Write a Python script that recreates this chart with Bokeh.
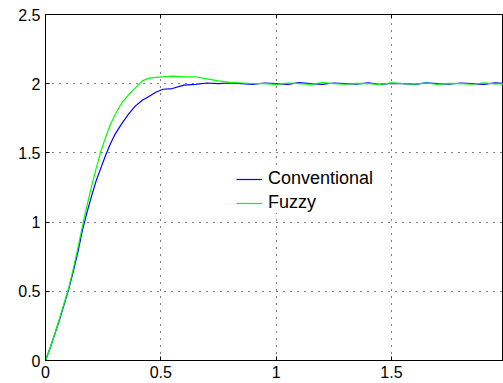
from bokeh.plotting import figure
from bokeh.models import Range1d, FixedTicker, Legend, LegendItem, LinearAxis
from bokeh.embed import file_html
from bokeh.resources import INLINE

# ---- data ----
time_s = [0, 0.02, 0.04, 0.06, 0.08, 0.10, 0.12, 0.14, 0.16, 0.18, 0.20, 0.22,
          0.24, 0.26, 0.28, 0.30, 0.33, 0.36, 0.39, 0.42, 0.45, 0.48, 0.51, 0.55,
          0.60, 0.65, 0.70, 0.75, 0.80,
          0.85, 0.90, 0.95, 1.00, 1.05, 1.10, 1.15, 1.20, 1.25, 1.30, 1.35, 1.40,
          1.45, 1.50, 1.55, 1.60, 1.65, 1.70, 1.75, 1.80, 1.85, 1.90, 1.95, 2.00]

conventional = [0, 0.09, 0.19, 0.29, 0.40, 0.51, 0.64, 0.78, 0.94, 1.07, 1.19, 1.30,
                1.39, 1.48, 1.56, 1.63, 1.71, 1.78, 1.84, 1.88, 1.91, 1.94, 1.96, 1.965,
                1.99, 1.995, 2.005, 2.0, 2.005,
                2.0, 1.995, 2.005, 2.0, 1.995, 2.008, 2.0, 1.995, 2.005, 2.0, 1.997, 2.006,
                1.995, 2.003, 2.0, 1.995, 2.006, 2.0, 1.996, 2.005, 2.0, 1.995, 2.006, 2.0]

fuzzy = [0, 0.09, 0.19, 0.30, 0.41, 0.52, 0.66, 0.81, 0.97, 1.12, 1.26, 1.39,
         1.51, 1.61, 1.70, 1.77, 1.86, 1.92, 1.97, 2.02, 2.04, 2.045, 2.05, 2.055,
         2.05, 2.05, 2.035, 2.02, 2.01,
         2.005, 2.0, 2.0, 1.995, 2.005, 2.0, 1.995, 2.008, 2.0, 1.996, 2.003, 2.0,
         1.995, 2.006, 2.0, 1.997, 2.005, 1.995, 2.003, 2.0, 1.996, 2.006, 1.998, 2.0]

x_ticks = [0, 0.5, 1, 1.5, 2]
x_tick_labels = ["0", "0.5", "1", "1.5", "2"]
y_ticks = [0, 0.5, 1, 1.5, 2, 2.5]
y_tick_labels = ["0", "0.5", "1", "1.5", "2", "2.5"]
series_names = ["Conventional", "Fuzzy"]

FONT = "Liberation Sans"

p = figure(width=503, height=383, output_backend="svg", toolbar_location=None,
           x_range=Range1d(0, 1.986), y_range=Range1d(0, 2.5),
           min_border_left=45, min_border_right=0, min_border_top=14,
           min_border_bottom=23)
p.background_fill_color = "white"
p.border_fill_color = "white"
p.outline_line_color = "black"
p.outline_line_width = 1

for ax, ticks, labels in ((p.xaxis[0], x_ticks, x_tick_labels), (p.yaxis[0], y_ticks, y_tick_labels)):
    ax.ticker = FixedTicker(ticks=ticks)
    ax.major_label_overrides = {t: l for t, l in zip(ticks, labels)}
    ax.axis_line_color = "black"
    ax.major_tick_line_color = "black"
    ax.major_tick_in = 4
    ax.major_tick_out = 0
    ax.minor_tick_line_color = None
    ax.major_label_text_font = FONT
    ax.major_label_text_font_size = "16px"
    ax.major_label_text_color = "black"
    ax.major_label_standoff = 5

# top box edge with inward ticks only (no labels)
top = LinearAxis(ticker=FixedTicker(ticks=x_ticks),
                 major_label_overrides={t: "" for t in x_ticks},
                 major_tick_in=4, major_tick_out=0, minor_tick_line_color=None,
                 major_label_standoff=0, axis_line_color="black")
p.add_layout(top, "above")

p.xgrid.ticker = FixedTicker(ticks=x_ticks)
p.ygrid.ticker = FixedTicker(ticks=y_ticks)
for g in (p.xgrid[0], p.ygrid[0]):
    g.grid_line_color = "black"
    g.grid_line_dash = "1 6"
    g.grid_line_width = 1

r1 = p.line(time_s, conventional, line_color="#0000FF", line_width=1.2)
r2 = p.line(time_s, fuzzy, line_color="#00FF00", line_width=1.2)

legend = Legend(items=[LegendItem(label=series_names[0], renderers=[r1]),
                       LegendItem(label=series_names[1], renderers=[r2])],
                location=(191, 147))
legend.border_line_color = None
legend.background_fill_color = "white"
legend.background_fill_alpha = 1
legend.label_text_font = FONT
legend.label_text_font_size = "18px"
legend.label_text_color = "black"
legend.glyph_width = 26
legend.label_standoff = 6
legend.padding = 4
legend.spacing = 3
legend.margin = 0
p.add_layout(legend, "center")

open("out.html", "w").write(file_html(p, INLINE))
